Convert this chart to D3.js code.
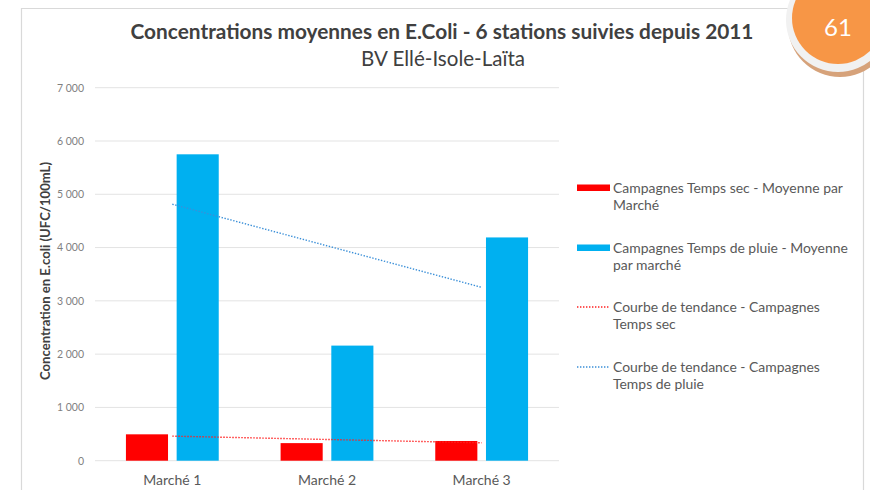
<!DOCTYPE html>
<html>
<head>
<meta charset="utf-8">
<script src="https://cdn.jsdelivr.net/npm/d3@7"></script>
<style>
  html, body { margin: 0; padding: 0; background: #ffffff; }
  svg { display: block; }
  text { font-family: Lato, "Open Sans", sans-serif; }
</style>
</head>
<body>
<svg id="chart" width="870" height="490"></svg>
<script>
// Mean E.coli concentration per "marché" (UFC/100mL)
const categories = ["Marché 1", "Marché 2", "Marché 3"];
const seriesKeys = ["sec", "pluie"];
const seriesLabels = [
  ["Campagnes Temps sec - Moyenne par", "Marché"],
  ["Campagnes Temps de pluie - Moyenne", "par marché"]
];
const trendLabels = [
  ["Courbe de tendance - Campagnes", "Temps sec"],
  ["Courbe de tendance - Campagnes", "Temps de pluie"]
];
const tempsSec = [495, 330, 370];
const tempsPluie = [5750, 2160, 4190];
const yTicks = [0, 1000, 2000, 3000, 4000, 5000, 6000, 7000];

const colors = { sec: "#ff0000", pluie: "#00b0f0" };
const trendColors = { sec: "#ff2020", pluie: "#3a8fd8" };

const svg = d3.select("#chart");

// Fit a text element to a target width by scaling its font size
function fitWidth(sel, target) {
  const node = sel.node();
  const w = node.getComputedTextLength();
  const fs = parseFloat(sel.attr("font-size"));
  const nfs = fs * target / w;
  sel.attr("font-size", nfs.toFixed(2));
  return nfs;
}

// Slide frame
const frame = svg.append("g").attr("stroke", "#d9d9d9").attr("stroke-width", 1.2).attr("fill", "none");
frame.append("path").attr("d", "M21.5,490 V8.5 H800");
frame.append("path").attr("d", "M863.5,70 V490");

// Titles
const title = svg.append("text")
  .attr("x", 442).attr("y", 39)
  .attr("text-anchor", "middle")
  .attr("font-size", 19).attr("font-weight", 700)
  .attr("fill", "#404040")
  .text("Concentrations moyennes en E.Coli - 6 stations suivies depuis 2011");
fitWidth(title, 623);

const subtitle = svg.append("text")
  .attr("x", 443).attr("y", 66)
  .attr("text-anchor", "middle")
  .attr("font-size", 18)
  .attr("fill", "#404040")
  .text("BV Ellé-Isole-Laïta");
fitWidth(subtitle, 164);

// Scales
const x0 = d3.scaleBand().domain(categories).range([95, 559]).paddingInner(0.4).paddingOuter(0.2);
const x1 = d3.scaleBand().domain(seriesKeys).range([0, x0.bandwidth()]).paddingInner(0.17);
const y = d3.scaleLinear().domain([0, 7000]).range([460.7, 87.7]);

// Gridlines
svg.append("g")
  .selectAll("line")
  .data(yTicks)
  .join("line")
  .attr("x1", 95).attr("x2", 559)
  .attr("y1", d => y(d)).attr("y2", d => y(d))
  .attr("stroke", "#e3e3e3").attr("stroke-width", 1);

// Y axis labels
const yAxis = d3.axisLeft(y).tickValues(yTicks).tickSize(0).tickPadding(0)
  .tickFormat(d => d3.format(",")(d).replace(/,/g, "\u202f"));
const yg = svg.append("g").attr("transform", "translate(84,0)").call(yAxis);
yg.select(".domain").remove();
yg.selectAll("text").attr("font-size", 10.5).attr("fill", "#7f7f7f")
  .attr("font-family", "Lato, 'Open Sans', sans-serif");

// Y axis title
const yTitle = svg.append("text")
  .attr("transform", "translate(50,271) rotate(-90)")
  .attr("text-anchor", "middle")
  .attr("font-size", 12.5).attr("font-weight", 700)
  .attr("fill", "#404040")
  .text("Concentration en E.coli (UFC/100mL)");
fitWidth(yTitle, 218);

// X axis labels
const xAxis = d3.axisBottom(x0).tickSize(0).tickPadding(0);
const xg = svg.append("g").attr("transform", "translate(0,475)").call(xAxis);
xg.select(".domain").remove();
xg.selectAll("text").attr("font-size", 14).attr("fill", "#595959")
  .attr("font-family", "Lato, 'Open Sans', sans-serif");

// Bars
const rows = categories.map((c, i) => ({ cat: c, sec: tempsSec[i], pluie: tempsPluie[i] }));
svg.append("g")
  .selectAll("g")
  .data(rows)
  .join("g")
  .attr("transform", d => `translate(${x0(d.cat)},0)`)
  .selectAll("rect")
  .data(d => seriesKeys.map(k => ({ key: k, value: d[k] })))
  .join("rect")
  .attr("x", d => x1(d.key))
  .attr("width", x1.bandwidth())
  .attr("y", d => y(d.value))
  .attr("height", d => y(0) - y(d.value))
  .attr("fill", d => colors[d.key]);

// Linear trend lines (least squares over category index 1..n)
function linearFit(vals) {
  const xs = vals.map((_, i) => i + 1);
  const mx = d3.mean(xs), my = d3.mean(vals);
  const slope = d3.sum(xs, (xv, i) => (xv - mx) * (vals[i] - my)) / d3.sum(xs, xv => (xv - mx) ** 2);
  return xs.map(xv => my + slope * (xv - mx));
}
const centerX = c => x0(c) + x0.bandwidth() / 2;
const line = d3.line().x(d => d[0]).y(d => y(d[1]));
[["sec", tempsSec], ["pluie", tempsPluie]].forEach(([k, vals]) => {
  const fit = linearFit(vals);
  const pts = [[centerX(categories[0]), fit[0]], [centerX(categories[categories.length - 1]), fit[fit.length - 1]]];
  svg.append("path")
    .attr("d", line(pts))
    .attr("fill", "none")
    .attr("stroke", trendColors[k])
    .attr("stroke-width", 1.4)
    .attr("stroke-dasharray", "1.4 1.6");
});

// Legend
const legend = svg.append("g").attr("transform", "translate(577,0)");
const legendItems = [
  { type: "bar", key: "sec", lines: seriesLabels[0], y: 188 },
  { type: "bar", key: "pluie", lines: seriesLabels[1], y: 248 },
  { type: "trend", key: "sec", lines: trendLabels[0], y: 307 },
  { type: "trend", key: "pluie", lines: trendLabels[1], y: 367 }
];
// Size legend text so the first line spans its full row
const probe = legend.append("text").attr("font-size", 13).text(seriesLabels[0][0]);
const legendFs = fitWidth(probe, 230);
probe.remove();
legendItems.forEach(it => {
  if (it.type === "bar") {
    legend.append("rect").attr("x", 0).attr("y", it.y - 3.5).attr("width", 33).attr("height", 6.5)
      .attr("fill", colors[it.key]);
  } else {
    legend.append("line").attr("x1", 0).attr("x2", 33).attr("y1", it.y).attr("y2", it.y)
      .attr("stroke", trendColors[it.key]).attr("stroke-width", 1.4).attr("stroke-dasharray", "1.4 1.6");
  }
  it.lines.forEach((t, j) => {
    legend.append("text")
      .attr("x", 36).attr("y", it.y + 4.5 + j * 17.5)
      .attr("font-size", legendFs.toFixed(2)).attr("fill", "#595959")
      .text(t);
  });
});

// Page number badge
const badge = svg.append("g");
badge.append("circle").attr("cx", 840).attr("cy", 25).attr("r", 52).attr("fill", "#d6a27a");
badge.append("circle").attr("cx", 838).attr("cy", 20).attr("r", 52).attr("fill", "#f1f1f1");
badge.append("circle").attr("cx", 838).attr("cy", 18).attr("r", 46).attr("fill", "#f79646");
badge.append("text").attr("x", 838).attr("y", 36).attr("text-anchor", "middle")
  .attr("font-size", 24).attr("fill", "#ffffff").text("61");
</script>
</body>
</html>
